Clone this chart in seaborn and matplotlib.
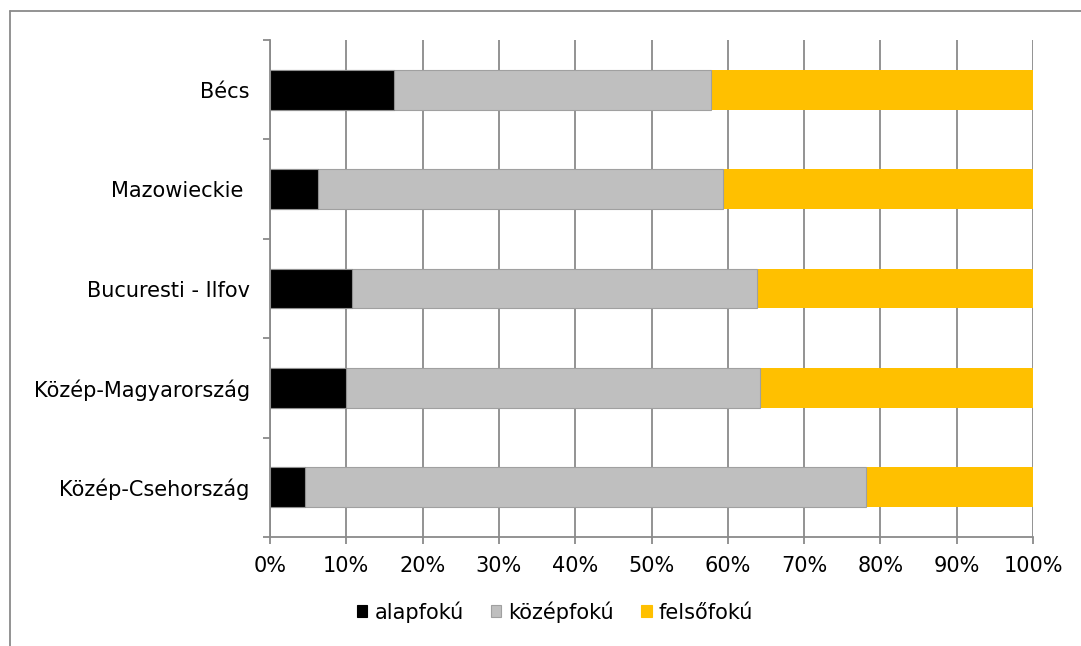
import numpy as np
import pandas as pd
import seaborn as sns
from matplotlib import pyplot as plt
from matplotlib.lines import Line2D
from matplotlib.patches import Patch

regions = ['Bécs', 'Mazowieckie ', 'Bucuresti - Ilfov', 'Közép-Magyarország', 'Közép-Csehország']
alapfoku = [16.2, 6.3, 10.8, 10.0, 4.6]
kozepfoku = [41.6, 53.1, 53.0, 54.2, 73.5]
felsofoku = [42.2, 40.6, 36.2, 35.8, 21.9]

series_names = ['alapfokú', 'középfokú', 'felsőfokú']
colors = ['#000000', '#BFBFBF', '#FFC000']
grid_color = '#8A8A8A'


def main():
    sns.set_style('white')
    plt.rcParams['font.family'] = ['DejaVu Sans']
    plt.rcParams['font.size'] = 15
    plt.rcParams['text.color'] = 'black'
    plt.rcParams['xtick.labelcolor'] = 'black'
    plt.rcParams['ytick.labelcolor'] = 'black'

    df = pd.DataFrame({
        'region': regions,
        'alap': alapfoku,
        'kozep': kozepfoku,
        'felso': felsofoku,
    })
    df['mid'] = df['alap'] + df['kozep']
    df['total'] = df['mid'] + df['felso']

    W, H = 1081, 646
    fig = plt.figure(figsize=(W / 100, H / 100), dpi=100)
    ax = fig.add_axes([270 / W, 1 - 537 / H, 763 / W, 497 / H])

    # stacked bars by layering cumulative sums
    sns.barplot(data=df, y='region', x='total', color=colors[2], saturation=1,
                width=0.4, orient='h', ax=ax, linewidth=0)
    sns.barplot(data=df, y='region', x='mid', color=colors[1], saturation=1,
                width=0.4, orient='h', ax=ax, edgecolor='#A0A0A0', linewidth=0.8)
    sns.barplot(data=df, y='region', x='alap', color=colors[0], saturation=1,
                width=0.4, orient='h', ax=ax, edgecolor='#909090', linewidth=0.8)

    ax.set_xlim(0, 100)
    ax.set_ylim(4.5, -0.5)
    ticks = np.arange(0, 101, 10)
    ax.set_xticks(ticks)
    ax.set_xticklabels([f'{t}%' for t in ticks])
    ax.set_yticks(np.arange(-0.5, 5, 1), minor=True)
    ax.set(xlabel='', ylabel='')

    ax.grid(axis='x', color=grid_color, linewidth=1.3)
    ax.set_axisbelow(True)
    for s in ('top', 'right'):
        ax.spines[s].set_visible(False)
    for s in ('left', 'bottom'):
        ax.spines[s].set_color(grid_color)
        ax.spines[s].set_linewidth(1.3)

    ax.tick_params(axis='y', which='major', length=0, pad=14.5, labelsize=15, labelcolor='black')
    ax.tick_params(axis='y', which='minor', length=5, width=1.3, color=grid_color, left=True)
    ax.tick_params(axis='x', which='major', length=5, width=1.3, color=grid_color,
                   bottom=True, pad=9, labelsize=15, labelcolor='black')

    handles = [Patch(facecolor=c, edgecolor='#A0A0A0' if c == colors[1] else c, linewidth=0.8)
               for c in colors]
    leg = fig.legend(handles, series_names, loc='center', bbox_to_anchor=(555 / W, 1 - 612 / H),
                     ncol=3, frameon=False, fontsize=15, handlelength=0.5, handleheight=0.5,
                     handletextpad=0.35, columnspacing=1.3)
    for t in leg.get_texts():
        t.set_color('black')

    # outer chart frame (cut at right and bottom)
    fig.add_artist(Line2D([10 / W, 1.0], [1 - 11 / H] * 2, transform=fig.transFigure,
                          color=grid_color, linewidth=1.3))
    fig.add_artist(Line2D([10 / W, 10 / W], [0.0, 1 - 11 / H], transform=fig.transFigure,
                          color=grid_color, linewidth=1.3))

    fig.savefig('out.png', dpi=100)
    plt.close(fig)


if __name__ == '__main__':
    main()
